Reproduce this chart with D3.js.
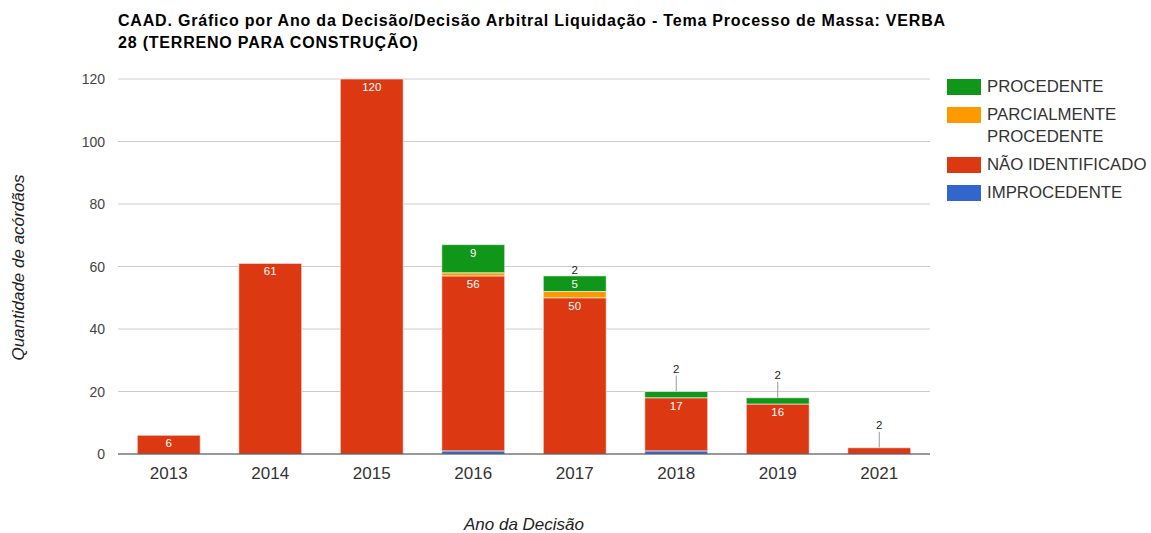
<!DOCTYPE html>
<html>
<head>
<meta charset="utf-8">
<script src="https://cdn.jsdelivr.net/npm/d3@7"></script>
<style>
  body { margin: 0; background: #fff; }
  text { font-family: "Liberation Sans", Arial, sans-serif; }
</style>
</head>
<body>
<script>
const width = 1151;
const height = 533;

const years = ["2013", "2014", "2015", "2016", "2017", "2018", "2019", "2021"];
const improcedente = [0, 0, 0, 1, 0, 1, 0, 0];
const naoIdentificado = [6, 61, 120, 56, 50, 17, 16, 2];
const parcialmente = [0, 0, 0, 1, 2, 0, 0, 0];
const procedente = [0, 0, 0, 9, 5, 2, 2, 0];

const seriesColors = ["#3366cc", "#dc3912", "#ff9900", "#109618"];
const yTicks = [0, 20, 40, 60, 80, 100, 120];

const svg = d3.select("body").append("svg")
  .attr("width", width)
  .attr("height", height);

const plotLeft = 118, plotRight = 930, plotTop = 79, plotBottom = 454;

const table = years.map((y, i) => ({
  year: y,
  s0: improcedente[i],
  s1: naoIdentificado[i],
  s2: parcialmente[i],
  s3: procedente[i]
}));

const stacked = d3.stack().keys(["s0", "s1", "s2", "s3"])(table);

const xScale = d3.scaleBand()
  .domain(years)
  .range([plotLeft, plotRight])
  .paddingInner(0.38)
  .paddingOuter(0.19);

const yScale = d3.scaleLinear()
  .domain([0, 120])
  .range([plotBottom, plotTop]);

// title
svg.append("text")
  .attr("x", 118).attr("y", 26)
  .style("font-size", "16px").style("font-weight", "bold").style("fill", "#000")
  .style("letter-spacing", "0.8px")
  .text("CAAD. Gráfico por Ano da Decisão/Decisão Arbitral Liquidação - Tema Processo de Massa: VERBA");
svg.append("text")
  .attr("x", 118).attr("y", 48)
  .style("font-size", "16px").style("font-weight", "bold").style("fill", "#000")
  .style("letter-spacing", "0.8px")
  .text("28 (TERRENO PARA CONSTRUÇÃO)");

// gridlines
svg.append("g")
  .selectAll("line")
  .data(yTicks.filter(d => d > 0))
  .enter().append("line")
  .attr("x1", plotLeft).attr("x2", plotRight)
  .attr("y1", d => yScale(d)).attr("y2", d => yScale(d))
  .attr("stroke", "#cccccc");

// y tick labels
svg.append("g")
  .selectAll("text")
  .data(yTicks)
  .enter().append("text")
  .attr("x", plotLeft - 13)
  .attr("y", d => yScale(d) + 5)
  .attr("text-anchor", "end")
  .style("font-size", "14px")
  .style("fill", "#444")
  .text(d => d);

// small labels (value 2) get a leader line
const smallLabels = [];
stacked.forEach((layer) => {
  layer.forEach((d, i) => {
    const v = d[1] - d[0];
    if (v === 2) {
      const stackTop = improcedente[i] + naoIdentificado[i] + parcialmente[i] + procedente[i];
      const isTop = d[1] === stackTop;
      smallLabels.push({ i, mid: (d[0] + d[1]) / 2, stackTop, isTop, v });
    }
  });
});

svg.append("g")
  .selectAll("line")
  .data(smallLabels.filter(d => d.isTop))
  .enter().append("line")
  .attr("x1", d => xScale(years[d.i]) + xScale.bandwidth() / 2)
  .attr("x2", d => xScale(years[d.i]) + xScale.bandwidth() / 2)
  .attr("y1", d => yScale(d.stackTop) - 16)
  .attr("y2", d => yScale(d.mid))
  .attr("stroke", "#999");

// bars
const groups = svg.append("g")
  .selectAll("g")
  .data(stacked)
  .enter().append("g")
  .attr("fill", (d, k) => seriesColors[k]);

groups.selectAll("rect")
  .data(d => d.filter(s => s[1] - s[0] > 0))
  .enter().append("rect")
  .attr("x", d => xScale(d.data.year))
  .attr("y", d => yScale(d[1]))
  .attr("width", xScale.bandwidth())
  .attr("height", d => yScale(d[0]) - yScale(d[1]))
  .attr("stroke", "#ffffff")
  .attr("stroke-opacity", 0.6)
  .attr("stroke-width", 1);

// inside labels
stacked.forEach((layer) => {
  svg.append("g")
    .selectAll("text")
    .data(layer.filter(d => (d[1] - d[0]) >= 5))
    .enter().append("text")
    .attr("x", d => xScale(d.data.year) + xScale.bandwidth() / 2)
    .attr("y", d => yScale(d[1]) + 12)
    .attr("text-anchor", "middle")
    .style("font-size", "11.5px")
    .style("fill", "#fff")
    .text(d => d[1] - d[0]);
});

// small labels above the stack
svg.append("g")
  .selectAll("text")
  .data(smallLabels)
  .enter().append("text")
  .attr("x", d => xScale(years[d.i]) + xScale.bandwidth() / 2)
  .attr("y", d => d.isTop ? yScale(d.stackTop) - 19 : yScale(d.stackTop) - 2)
  .attr("text-anchor", "middle")
  .style("font-size", "11.5px")
  .style("fill", "#222")
  .text(d => d.v);

// baseline
svg.append("line")
  .attr("x1", plotLeft).attr("x2", plotRight)
  .attr("y1", yScale(0)).attr("y2", yScale(0))
  .attr("stroke", "#333");

// x tick labels
svg.append("g")
  .selectAll("text")
  .data(years)
  .enter().append("text")
  .attr("x", d => xScale(d) + xScale.bandwidth() / 2)
  .attr("y", 479)
  .attr("text-anchor", "middle")
  .style("font-size", "17px")
  .style("fill", "#333")
  .text(d => d);

// axis titles
svg.append("text")
  .attr("x", (plotLeft + plotRight) / 2)
  .attr("y", 530)
  .attr("text-anchor", "middle")
  .style("font-size", "17px")
  .style("font-style", "italic")
  .style("fill", "#222")
  .text("Ano da Decisão");

svg.append("text")
  .attr("transform", `translate(24,${(plotTop + plotBottom) / 2 + 1}) rotate(-90)`)
  .attr("text-anchor", "middle")
  .style("font-size", "17px")
  .style("font-style", "italic")
  .style("fill", "#222")
  .text("Quantidade de acórdãos");

// legend
const legendItems = [
  { name: ["PROCEDENTE"], color: seriesColors[3] },
  { name: ["PARCIALMENTE", "PROCEDENTE"], color: seriesColors[2] },
  { name: ["NÃO IDENTIFICADO"], color: seriesColors[1] },
  { name: ["IMPROCEDENTE"], color: seriesColors[0] }
];
let ly = 79;
legendItems.forEach(item => {
  svg.append("rect")
    .attr("x", 947).attr("y", ly)
    .attr("width", 34).attr("height", 16)
    .attr("fill", item.color);
  item.name.forEach((line, j) => {
    svg.append("text")
      .attr("x", 987).attr("y", ly + 13 + j * 22)
      .style("font-size", "16.8px")
      .style("fill", "#333")
      .text(line);
  });
  ly += 28 + (item.name.length - 1) * 22;
});
</script>
</body>
</html>
